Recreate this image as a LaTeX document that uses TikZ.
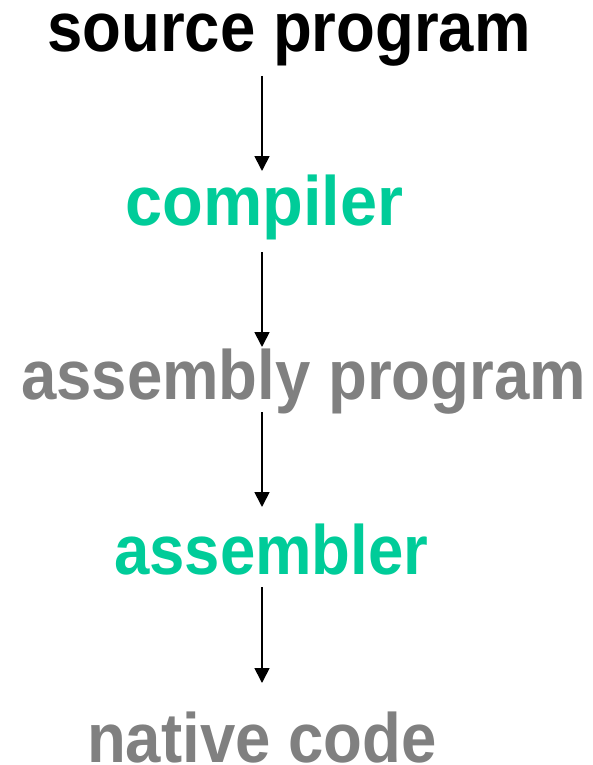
\documentclass[tikz,border=0pt]{standalone}
\usepackage{fontspec}
\setmainfont{Liberation Sans}
\usetikzlibrary{arrows.meta}
\definecolor{tealgreen}{RGB}{0,204,153}
\definecolor{midgray}{RGB}{128,128,128}
\tikzset{
  lbl/.style={anchor=base west, inner sep=0pt, font=\fontsize{63.5}{70}\selectfont\bfseries},
  arr/.style={line width=1.7pt, -{Triangle[width=15pt,length=15pt]}},
}
\newcommand{\tallbox}[2][1]{\scalebox{#1}[1.1]{#2}}
\begin{document}
\begin{tikzpicture}[x=1pt,y=-1pt]
\useasboundingbox (0,0) rectangle (593,765);
\node[lbl, text=black, text height=40pt] (src) at (47,52) {\tallbox{source program}};
\node[lbl, text=tealgreen] (comp) at (125,225) {\tallbox[1.05]{compiler}};
\node[lbl, text=midgray] (asmp) at (21,399) {\tallbox{assembly program}};
\node[lbl, text=tealgreen] (asmr) at (114,574) {\tallbox{assembler}};
\node[lbl, text=midgray, text depth=0pt] (nat) at (87,762) {\tallbox{native code}};
\coordinate (ax) at (262,0);
\draw[arr] ([yshift=-24pt]src.base -| ax) -- ([yshift=54pt]comp.base -| ax);
\draw[arr] ([yshift=-27pt]comp.base -| ax) -- ([yshift=52pt]asmp.base -| ax);
\draw[arr] ([yshift=-13pt]asmp.base -| ax) -- ([yshift=67pt]asmr.base -| ax);
\draw[arr] ([yshift=-13pt]asmr.base -| ax) -- ([yshift=79pt]nat.base -| ax);
\end{tikzpicture}
\end{document}
